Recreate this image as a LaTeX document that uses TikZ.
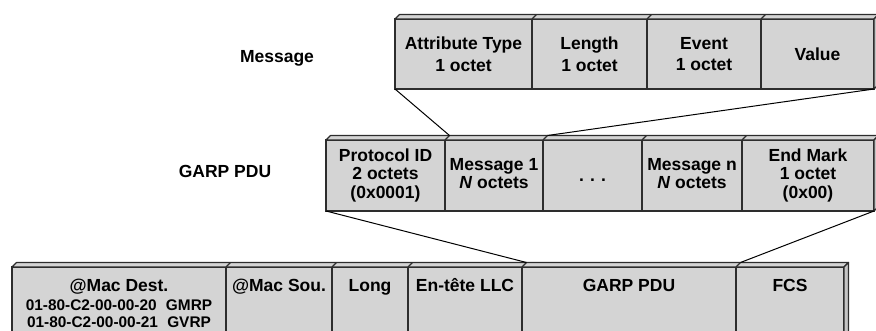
\documentclass[tikz,border=0pt]{standalone}
\usepackage{fontspec}
\setmainfont{Liberation Sans}
\usetikzlibrary{calc}
\definecolor{cellgray}{RGB}{212,212,212}
\definecolor{sidegray}{RGB}{196,196,196}
\definecolor{edgegray}{RGB}{45,45,45}
\begin{document}
\begin{tikzpicture}[x=1pt, y=-1pt,
  cell/.style={draw=edgegray, line width=1.2pt, fill=cellgray, anchor=north west,
    inner sep=0pt, outer sep=0pt, align=center,
    font=\bfseries\fontsize{17.5}{21.5}\selectfont},
  toprow/.style={cell, minimum height=70pt},
  midrow/.style={cell, minimum height=71pt, text depth=4pt,
    font=\bfseries\fontsize{17.5}{18.5}\selectfont},
  lowrow/.style={cell, minimum height=78pt},
  face/.style={draw=edgegray, line width=1.2pt, fill=cellgray, line join=round},
  side/.style={face, fill=sidegray},
  tick/.style={draw=edgegray, line width=1.2pt},
  link/.style={draw=black, line width=1pt},
  caption/.style={font=\bfseries\fontsize{17.5}{20}\selectfont, inner sep=0pt},
  addr/.style={font=\bfseries\fontsize{15.4}{17}\selectfont, inner sep=0pt, anchor=base},
]
\useasboundingbox (0,0) rectangle (876,331);

% ---- Message ----
\node[caption] (lmsg) at (277,58) {Message};
\node[toprow, minimum width=137pt] (att) at (395,19) {Attribute Type\\1 octet};
\node[toprow, minimum width=115pt] (len) at (532,19) {Length\\1 octet};
\node[toprow, minimum width=114pt] (evt) at (647,19) {Event\\1 octet};
\node[toprow, minimum width=113pt] (val) at (761,19) {Value};
\draw[face] (att.north west) -- ++(4.5,-4.5) -- ($(val.north east)+(4.5,-4.5)$) -- (val.north east) -- cycle;
\draw[side] (val.north east) -- ++(4.5,-4.5) -- ($(val.south east)+(4.5,-4.5)$) -- (val.south east) -- cycle;
\foreach \c in {len,evt,val} \draw[tick] (\c.north west) -- ++(4.5,-4.5);

% ---- GARP PDU ----
\node[caption] (lpdu) at (225,171.5) {GARP PDU};
\node[midrow, minimum width=119pt] (pid) at (326,140) {Protocol ID\\2 octets\\(0x0001)};
\node[midrow, minimum width=98pt] (m1) at (445,140) {Message 1\\\textit{N} octets};
\node[midrow, minimum width=99pt, text height=12pt, text depth=0pt] (dots) at (543,140) {.\hspace{0.35em}.\hspace{0.35em}.};
\node[midrow, minimum width=100pt] (mn) at (642,140) {Message n\\\textit{N} octets};
\node[midrow, minimum width=132pt] (endm) at (742,140) {End Mark\\1 octet\\(0x00)};
\draw[face] (pid.north west) -- ++(4.5,-4.5) -- ($(endm.north east)+(4.5,-4.5)$) -- (endm.north east) -- cycle;
\draw[side] (endm.north east) -- ++(4.5,-4.5) -- ($(endm.south east)+(4.5,-4.5)$) -- (endm.south east) -- cycle;
\foreach \c in {m1,dots,mn,endm} \draw[tick] (\c.north west) -- ++(4.5,-4.5);

% ---- Ethernet frame ----
\node[lowrow, minimum width=214pt] (dest) at (12,267) {};
\node[lowrow, minimum width=106pt] (src) at (226,267) {};
\node[lowrow, minimum width=76pt] (long) at (332,267) {};
\node[lowrow, minimum width=114pt] (llc) at (408,267) {};
\node[lowrow, minimum width=214pt] (garp) at (522,267) {};
\node[lowrow, minimum width=108pt] (fcs) at (736,267) {};
\draw[face] (dest.north west) -- ++(4.5,-4.5) -- ($(fcs.north east)+(4.5,-4.5)$) -- (fcs.north east) -- cycle;
\draw[side] (fcs.north east) -- ++(4.5,-4.5) -- ($(fcs.south east)+(4.5,-4.5)$) -- (fcs.south east) -- cycle;
\foreach \c in {src,long,llc,garp,fcs} \draw[tick] (\c.north west) -- ++(4.5,-4.5);

\node[caption, anchor=base] (tdest) at ($(dest.north)+(0,24)$) {@Mac Dest.};
\node[addr] (gmrp) at ($(dest.north)+(0,44)$) {01-80-C2-00-00-20\hspace{0.6em}GMRP};
\node[addr] (gvrp) at ($(dest.north)+(0,60.5)$) {01-80-C2-00-00-21\hspace{0.6em}GVRP};
\node[caption, anchor=base] (tsrc) at ($(src.north)+(0,24)$) {@Mac Sou.};
\node[caption, anchor=base] (tlong) at ($(long.north)+(0,24)$) {Long};
\node[caption, anchor=base] (tllc) at ($(llc.north)+(0,24)$) {En-tête LLC};
\node[caption, anchor=base] (tgarp) at ($(garp.north)+(0,24)$) {GARP PDU};
\node[caption, anchor=base] (tfcs) at ($(fcs.north)+(0,24)$) {FCS};

% ---- expansion lines ----
\draw[link] (att.south west) -- ($(pid.north east)+(4.5,-4.5)$);
\draw[link] (val.south east) -- ($(dots.north west)+(4.5,-4.5)$);
\draw[link] (pid.south west) -- ($(garp.north west)+(4.5,-4.5)$);
\draw[link] (endm.south east) -- ($(fcs.north west)+(4.5,-4.5)$);
\end{tikzpicture}
\end{document}
